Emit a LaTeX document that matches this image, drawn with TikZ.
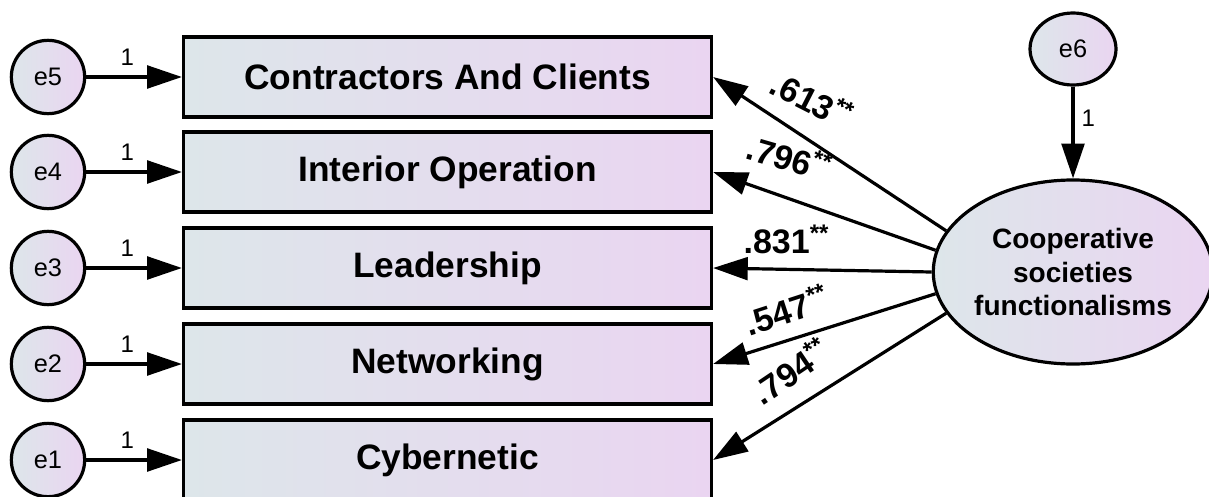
\documentclass[tikz,border=0pt]{standalone}
\usepackage{fontspec}
\setmainfont{Liberation Sans}
\usetikzlibrary{arrows.meta,shapes.geometric}
\definecolor{shadeleft}{RGB}{221,230,234}
\definecolor{shaderight}{RGB}{234,213,241}

\begin{document}
\begin{tikzpicture}[x=0.75pt,y=-0.75pt]
\tikzset{edge/.style = {-{Triangle[length=26pt,width=17pt]}, line width=2.4pt}}
\tikzset{itembox/.style = {shape=rectangle, draw, line width=2.4pt, minimum width=396pt, minimum height=60pt, left color=shadeleft, right color=shaderight, font=\fontsize{26.5}{30}\selectfont\bfseries}}
\tikzset{errvar/.style = {shape=circle, draw, line width=2.4pt, minimum size=55pt, inner sep=0pt, shading angle=135, left color=shadeleft, right color=shaderight, font=\fontsize{19}{22}\selectfont}}
\tikzset{one/.style = {font=\fontsize{18}{20}\selectfont}}
\tikzset{coef/.style = {font=\fontsize{25.5}{28}\selectfont\bfseries, inner sep=0pt}}
\def \stars {\raisebox{0.35em}{\fontsize{18}{18}\selectfont **}}
\clip (0,0) rectangle (1209,496);
% observed items
\node[itembox](i5) at (447.5,77) {Contractors And Clients};
\node[itembox](i4) at (447.5,172) {Interior Operation};
\node[itembox](i3) at (447.5,268) {Leadership};
\node[itembox](i2) at (447.5,364) {Networking};
\node[itembox](i1) at (447.5,460) {Cybernetic};
% error terms
\node[errvar](e5) at (48,77) {e5};
\node[errvar](e4) at (48,172) {e4};
\node[errvar](e3) at (48,268) {e3};
\node[errvar](e2) at (48,364) {e2};
\node[errvar](e1) at (48,460) {e1};
\node[errvar, minimum width=64.5pt, minimum height=54pt, shape=ellipse](e6) at (1073,49) {e6};
% latent variable
\node[shape=ellipse, draw, line width=2.4pt, minimum width=204pt, minimum height=138pt, inner sep=0pt, shading angle=135, left color=shadeleft, right color=shaderight, align=center, font=\fontsize{21}{25}\selectfont\bfseries](csf) at (1073,272) {Cooperative\\ societies\\ functionalisms};
\draw[edge] (e5) -- node[pos=0.43, above=4pt, one] {1} (i5);
\draw[edge] (e4) -- node[pos=0.43, above=4pt, one] {1} (i4);
\draw[edge] (e3) -- node[pos=0.43, above=4pt, one] {1} (i3);
\draw[edge] (e2) -- node[pos=0.43, above=4pt, one] {1} (i2);
\draw[edge] (e1) -- node[pos=0.43, above=4pt, one] {1} (i1);
\draw[edge] (e6) -- node[pos=0.35, right=2pt, one] {1} (csf);
\draw[edge] (csf.162) -- (i5.east);
\draw[edge] (csf.171) -- (i4.east);
\draw[edge] (csf.180) -- (i3.east);
\draw[edge] (csf.189) -- (i2.east);
\draw[edge] (csf.198) -- (i1.east);
\node[coef, rotate=-27] (c5) at (812,99) {.613\stars};
\node[coef, rotate=-16] (c4) at (789,157) {.796\stars};
\node[coef] (c3) at (786,239) {.831\stars};
\node[coef, rotate=18] (c2) at (786,310) {.547\stars};
\node[coef, rotate=34] (c1) at (790,371) {.794\stars};
\end{tikzpicture}
\end{document}
